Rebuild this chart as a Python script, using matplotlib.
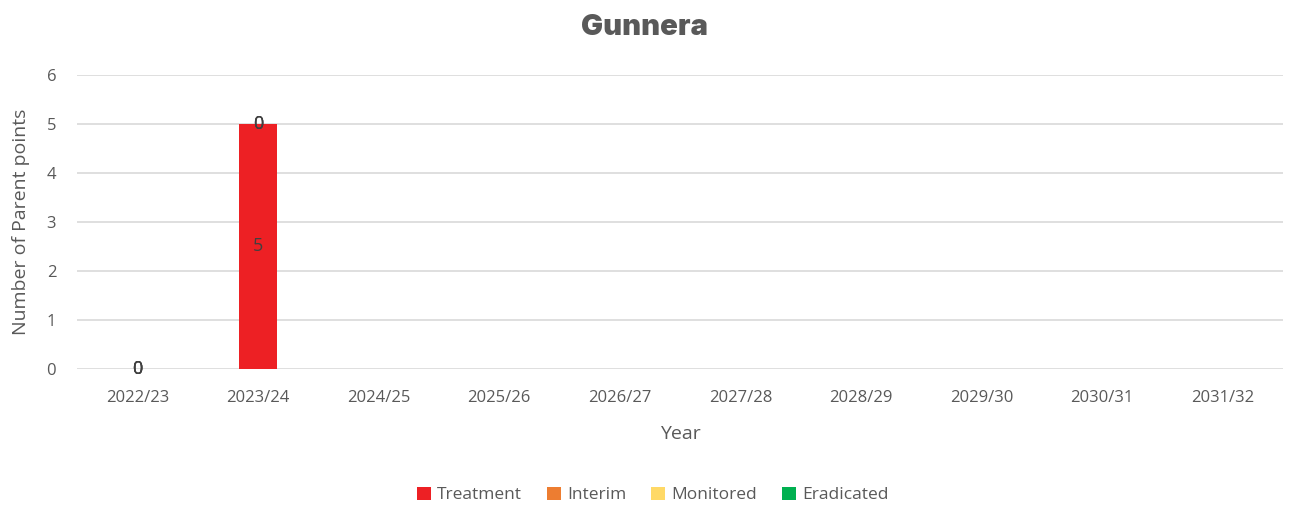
import numpy as np
import matplotlib
matplotlib.use("Agg")
import matplotlib.pyplot as plt
from matplotlib.patches import Patch

years = ["2022/23", "2023/24", "2024/25", "2025/26", "2026/27",
         "2027/28", "2028/29", "2029/30", "2030/31", "2031/32"]
treatment = [0, 5, None, None, None, None, None, None, None, None]
interim = [0, 0, None, None, None, None, None, None, None, None]
monitored = [0, 0, None, None, None, None, None, None, None, None]
eradicated = [0, 0, None, None, None, None, None, None, None, None]

series_names = ["Treatment", "Interim", "Monitored", "Eradicated"]
series_colors = ["#ED2024", "#ED7D31", "#FFD966", "#00B050"]

plt.rcParams['font.family'] = ['Open Sans', 'DejaVu Sans']

fig = plt.figure(figsize=(12.9, 5.05), dpi=100)
ax = fig.add_axes([0.0597, 0.2693, 0.9349, 0.5822])

x = np.arange(len(years))
bottom = np.zeros(len(years))
width = 0.315
text_color = "#595959"

for name, vals, col in zip(series_names, [treatment, interim, monitored, eradicated], series_colors):
    arr = np.array([np.nan if v is None else v for v in vals], dtype=float)
    h = np.nan_to_num(arr)
    ax.bar(x, h, width, bottom=bottom, color=col, zorder=3)
    for i, v in enumerate(arr):
        if not np.isnan(v):
            ax.text(x[i], bottom[i] + v / 2, f"{int(v)}", ha="center", va="center",
                    fontsize=13, color="#404040", zorder=4)
    bottom = bottom + h

ax.set_xlim(-0.5, len(years) - 0.5)
ax.set_ylim(0, 6)
ax.set_yticks(range(0, 7))
ax.set_xticks(x)
ax.set_xticklabels(years)
ax.tick_params(axis="both", length=0, labelsize=12, labelcolor=text_color)
ax.tick_params(axis="x", pad=15)
ax.tick_params(axis="y", pad=15)
ax.grid(axis="y", color="#D9D9D9", linewidth=1.2, zorder=0)
for s in ax.spines.values():
    s.set_visible(False)

ax.set_xlabel("Year", fontsize=14, color=text_color, labelpad=14)
ax.set_ylabel("Number of Parent points", fontsize=14, color=text_color, labelpad=12)

fig.text(0.5, 0.945, "Gunnera", ha="center", va="center", fontsize=21,
         fontweight="black", color=text_color, family=["Inter", "DejaVu Sans"])

handles = [Patch(facecolor=c, edgecolor="none") for c in series_colors]
fig.legend(handles, series_names, loc="center", bbox_to_anchor=(0.506, 0.02),
           ncol=4, frameon=False, fontsize=12.5, labelcolor=text_color,
           handlelength=0.8, handleheight=0.8, handletextpad=0.35, columnspacing=1.45)

fig.savefig("out.png", dpi=100)
